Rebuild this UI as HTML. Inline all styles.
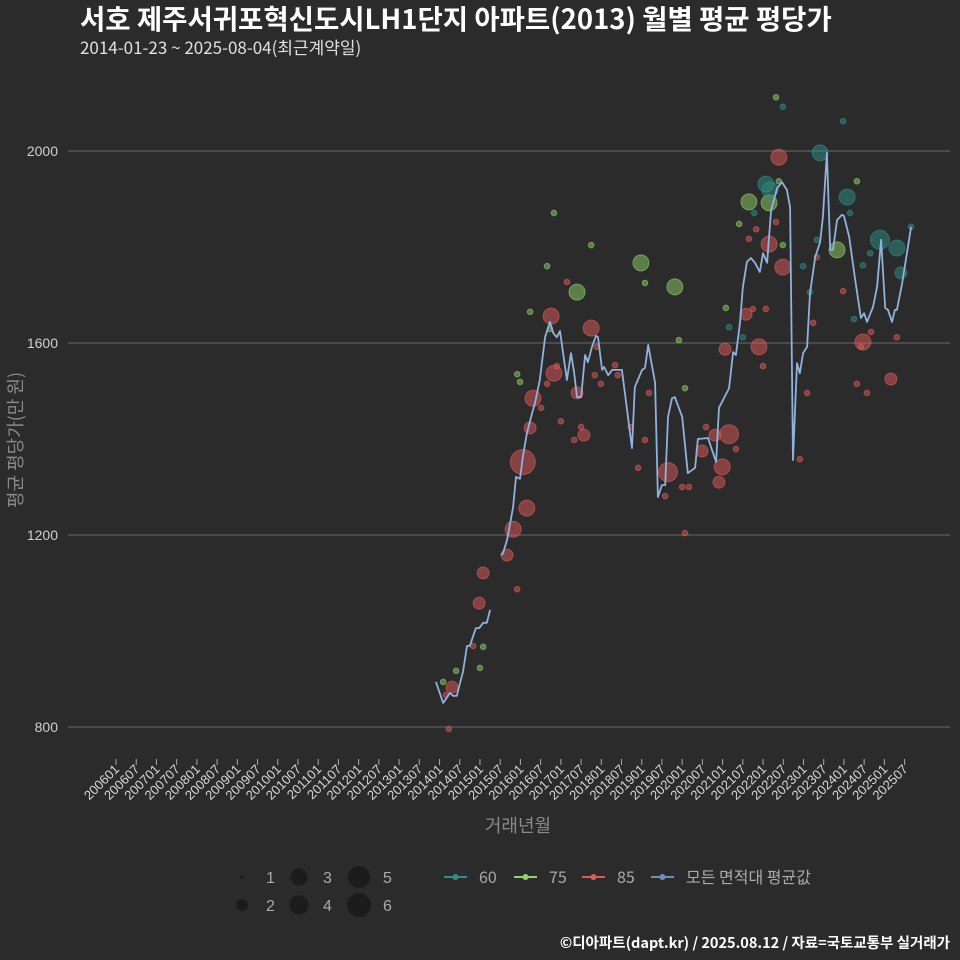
<!DOCTYPE html>
<html><head><meta charset="utf-8"><style>
body{margin:0;background:#2b2b2b;}
svg{display:block;font-family:"Liberation Sans","Noto Sans CJK KR",sans-serif;}
</style></head><body>
<svg id="chart" width="960" height="960" viewBox="0 0 960 960" xmlns="http://www.w3.org/2000/svg">
<rect width="960" height="960" fill="#2b2b2b"/>
<text x="80" y="29" fill="#ffffff" font-size="27.5" font-weight="bold" font-family="'Noto Sans CJK KR',sans-serif">서호 제주서귀포혁신도시LH1단지 아파트(2013) 월별 평균 평당가</text>
<text x="80" y="54" fill="#e0e0e0" font-size="17" font-family="'Noto Sans CJK KR',sans-serif">2014-01-23 ~ 2025-08-04(최근계약일)</text>
<g id="grid"></g>
<g id="xaxis"></g>
<g id="bubbles"></g>
<g id="line"></g>
<text x="518" y="832" fill="#8a8a8a" font-size="18" text-anchor="middle" font-family="'Noto Sans CJK KR',sans-serif">거래년월</text>
<text transform="translate(22,440) rotate(-90)" fill="#8a8a8a" font-size="18" text-anchor="middle" font-family="'Noto Sans CJK KR',sans-serif">평균 평당가(만 원)</text>
<g id="legend"></g>
<text x="950" y="948" fill="#ffffff" font-size="14.5" font-weight="bold" text-anchor="end" font-family="'Noto Sans CJK KR',sans-serif">©디아파트(dapt.kr) / 2025.08.12 / 자료=국토교통부 실거래가</text>
</svg>
<script>
const yTicks=[800,1200,1600,2000];
const lineT=[2013.91,2014.09,2014.26,2014.33,2014.43,2014.48,2014.58,2014.68,2014.75,2014.90,2014.98,2015.08,2015.17,2015.25,null,2015.52,2015.57,2015.67,2015.82,2015.89,2015.99,2016.06,2016.16,2016.29,2016.36,2016.48,2016.61,2016.73,2016.81,2016.90,2016.98,2017.15,2017.25,2017.33,2017.40,2017.50,2017.60,2017.67,2017.77,2017.87,2017.92,2018.02,2018.07,2018.17,2018.27,2018.51,2018.76,2018.83,2019.01,2019.08,2019.16,2019.33,2019.40,2019.50,2019.58,2019.65,2019.75,2019.82,2020.00,2020.14,2020.24,2020.32,2020.39,2020.64,2020.84,2020.91,2021.01,2021.16,2021.26,2021.33,2021.43,2021.50,2021.60,2021.70,2021.80,2021.92,2022.00,2022.10,2022.20,2022.35,2022.47,2022.59,2022.67,2022.74,2022.84,2022.91,2022.99,2023.09,2023.16,2023.29,2023.41,2023.48,2023.58,2023.66,2023.73,2023.83,2023.95,2024.00,2024.13,2024.27,2024.42,2024.50,2024.57,2024.72,2024.82,2024.92,2025.02,2025.09,2025.19,2025.26,2025.31,2025.44,2025.66];
const lineV=[894,850,871,865,865,883,915,969,969,1006,1006,1017,1017,1044,null,1158,1162,1190,1258,1321,1317,1362,1412,1454,1475,1523,1612,1644,1621,1612,1625,1523,1579,1537,1487,1487,1575,1560,1592,1615,1612,1544,1550,1533,1544,1544,1381,1508,1544,1548,1596,1517,1279,1304,1304,1446,1485,1487,1446,1329,1335,1340,1400,1402,1352,1465,1481,1506,1581,1575,1642,1715,1769,1777,1767,1748,1787,1767,1877,1923,1935,1919,1883,1356,1558,1537,1579,1592,1704,1779,1810,1863,1996,1794,1794,1856,1867,1865,1821,1737,1652,1662,1644,1675,1717,1815,1673,1669,1644,1669,1669,1725,1842];
const redT=[2016.06,2016.16,2015.82,2015.67,2015.08,2014.98,2015.92,2014.83,2014.31,2014.23,2014.16,2016.51,2016.24,2017.00,2017.33,2017.50,2017.57,2016.76,2017.15,2017.75,2017.89,2016.83,2016.90,2016.66,2016.31,2017.40,2017.84,2017.99,2018.34,2018.41,2019.18,2018.73,2019.08,2018.91,2019.65,2019.58,2020.00,2020.17,2020.07,2020.49,2020.59,2020.81,2021.16,2020.99,2020.91,2021.33,2021.06,2021.58,2021.75,2022.07,2021.90,2022.00,2021.83,2021.65,2022.15,2022.32,2022.49,2022.39,2022.91,2023.09,2023.24,2023.33,2023.98,2024.47,2024.42,2024.67,2024.32,2024.57,2025.16,2025.31];
const redV=[1352,1256,1212,1158,1121,1058,1087,969,883,796,867,1465,1423,1437,1398,1425,1408,1656,1727,1631,1592,1537,1552,1515,1485,1496,1533,1515,1554,1533,1496,1425,1398,1340,1331,1281,1300,1300,1204,1375,1425,1408,1410,1342,1310,1379,1587,1660,1671,1671,1592,1552,1837,1817,1806,1852,1758,1987,1358,1496,1642,1779,1708,1602,1592,1623,1515,1496,1525,1612];
const redS=[6,3,3,2,2,2,1,1,2,1,1,1,2,1,1,1,2,3,1,3,1,3,1,1,3,2,1,1,1,1,1,1,1,1,4,1,1,1,1,2,1,2,4,3,2,1,2,2,1,1,3,1,1,1,3,1,3,3,1,1,1,1,1,3,1,1,1,1,2,1];
const greenT=[2014.09,2014.41,2015.08,2015.00,2016.83,2017.75,2016.66,2017.40,2016.24,2016.73,2015.92,2015.99,2018.98,2019.08,2019.82,2019.92,2020.07,2021.08,2021.41,2021.65,2022.15,2022.39,2022.32,2022.49,2024.32,2023.83];
const greenV=[894,917,967,923,1871,1804,1760,1706,1665,1629,1535,1519,1767,1725,1717,1606,1506,1673,1848,1894,1892,1937,2112,1804,1937,1794];
const greenS=[1,1,1,1,1,1,1,3,1,1,1,1,3,1,3,1,1,1,1,3,3,1,1,1,1,3];
const tealT=[2022.49,2023.98,2022.07,2022.17,2021.78,2023.41,2024.08,2024.15,2023.33,2022.99,2023.16,2024.47,2024.65,2024.25,2024.89,2025.31,2025.41,2025.66,2021.16,2021.50];
const tealV=[2092,2062,1931,1919,1871,1996,1904,1871,1815,1760,1706,1762,1787,1650,1815,1798,1746,1842,1633,1612];
const tealS=[1,1,3,3,1,3,3,1,1,1,1,1,1,1,4,3,2,1,1,1];
const sizeLabels=[1,2,3,4,5,6];
const areaLabels=['60','75','85','모든 면적대 평균값'];

const NS='http://www.w3.org/2000/svg';
const X=t=>116+(t-2006)*40.44;
const Y=v=>727-(v-800)*0.48;
const R=s=>[0,2.8,6,8,9.5,11,12.5][s];
function mk(tag,attrs,parent){const e=document.createElementNS(NS,tag);for(const k in attrs)e.setAttribute(k,attrs[k]);parent.appendChild(e);return e;}
const grid=document.getElementById('grid');
yTicks.forEach(v=>{
  const l=mk('line',{x1:68,x2:950,y1:Y(v),y2:Y(v),stroke:'#6a6a6a','stroke-width':1},grid);
  
  
  const t=mk('text',{x:58,y:Y(v)+5,fill:'#cfcfcf','font-size':14,'text-anchor':'end'},grid);
  t.textContent=v;
  
  
});
const xa=document.getElementById('xaxis');
for(let i=0;i<40;i++){
  const yr=2006+Math.floor(i/2), mo=i%2?7:1;
  const lab=yr+(mo<10?'0':'')+mo;
  const x=X(yr+(mo-1)/12);
  const tk=mk('line',{x1:x,x2:x,y1:759,y2:765,stroke:'#aaaaaa','stroke-width':1},xa);
  
  
  const t=mk('text',{transform:`translate(${x+4},${770}) rotate(-45)`,fill:'#d8d8d8','font-size':13,'text-anchor':'end'},xa);
  t.textContent=lab;
  
  
}
const bg=document.getElementById('bubbles');
function drawB(T,V,S,col,name){
  T.forEach((t,i)=>{
    const c=mk('circle',{cx:X(t),cy:Y(V[i]),r:R(S[i]),fill:col,'fill-opacity':0.5,stroke:col,'stroke-opacity':0.6,'stroke-width':1},bg);
    
    
  });
}
drawB(redT,redV,redS,'#e05a5a','bubble-85');
drawB(greenT,greenV,greenS,'#8fd16a','bubble-75');
drawB(tealT,tealV,tealS,'#2e8f88','bubble-60');
let d='',pen=false;
lineT.forEach((t,i)=>{
  if(t===null||lineV[i]===null){pen=false;return;}
  d+=(pen?'L':'M')+X(t).toFixed(1)+','+Y(lineV[i]).toFixed(1);pen=true;
});
const p=mk('path',{d:d,fill:'none',stroke:'#8fb3dc','stroke-width':1.8,'stroke-linejoin':'round'},document.getElementById('line'));


const lg=document.getElementById('legend');
const sxs=[242,242,299,299,359,359],sys=[877,905,877,905,877,905],lr=[1.8,6,8.5,9.5,11,12];
sizeLabels.forEach((s,i)=>{
  const c=mk('circle',{cx:sxs[i],cy:sys[i],r:lr[i],fill:'#1c1c1c'},lg);
  
  
  const t=mk('text',{x:sxs[i]+24,y:sys[i]+6,fill:'#aaaaaa','font-size':16},lg);
  t.textContent=s;
  
  
});
const lcols=['#2e8f88','#8fd16a','#e05a5a','#6f8fb8'],lxs=[444,514,582,651];
areaLabels.forEach((a,i)=>{
  const l=mk('line',{x1:lxs[i],x2:lxs[i]+23,y1:877,y2:877,stroke:lcols[i],'stroke-width':2},lg);
  
  
  const c=mk('circle',{cx:lxs[i]+11.5,cy:877,r:3,fill:lcols[i]},lg);
  
  
  const t=mk('text',{x:lxs[i]+35,y:883,fill:'#aaaaaa','font-size':16,'font-family':"'Noto Sans CJK KR',sans-serif"},lg);
  t.textContent=a;
  
  
});
</script>
</body></html>
